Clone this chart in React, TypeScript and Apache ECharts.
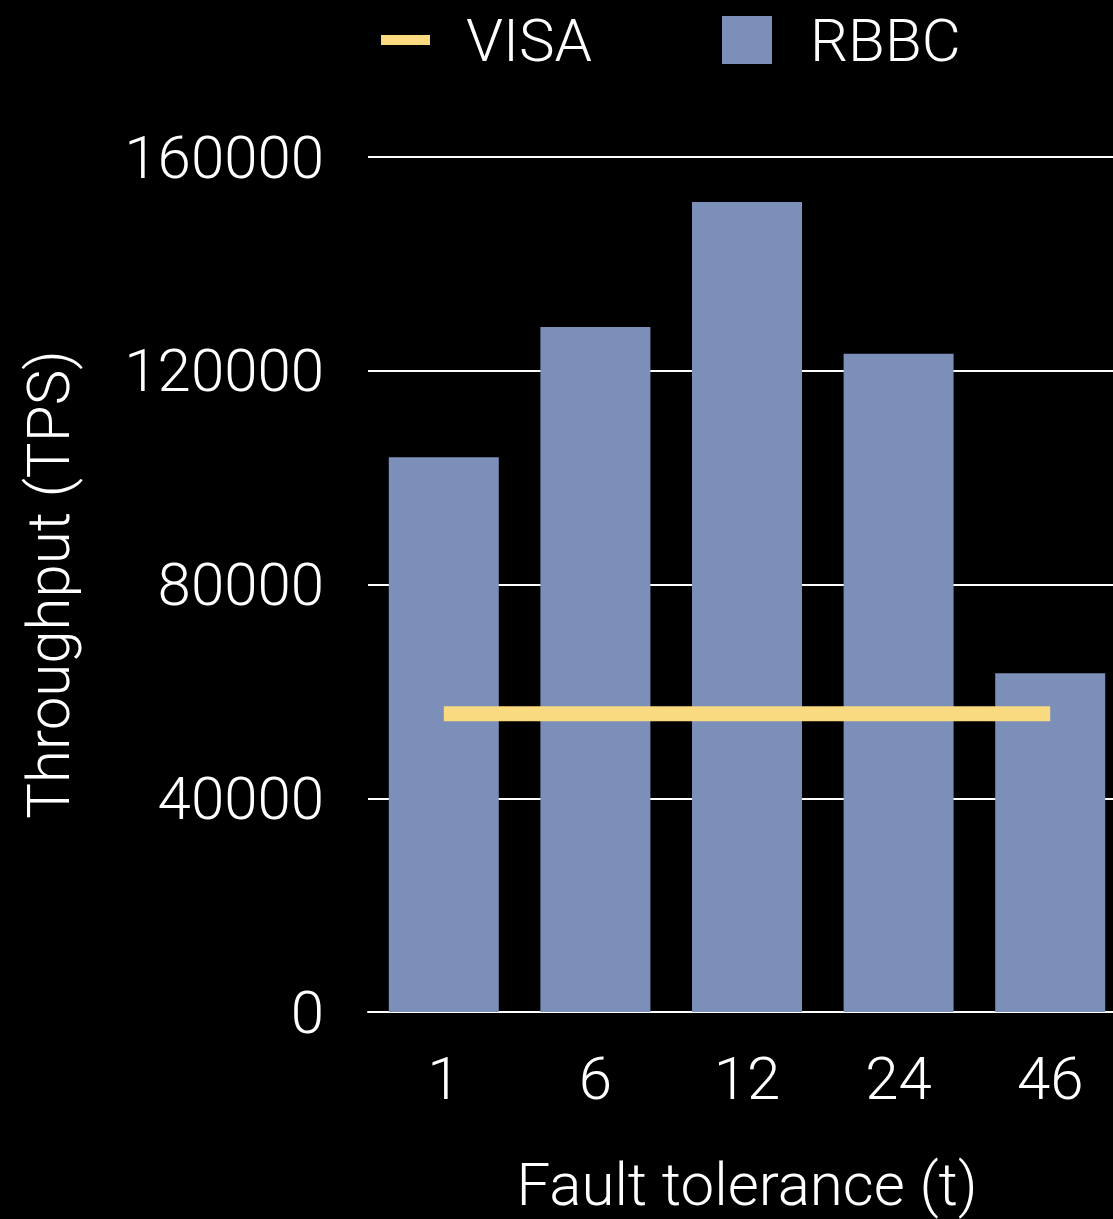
import React, { useEffect, useRef } from "react";
import * as echarts from "echarts";

const categories = ["1", "6", "12", "24", "46"];
const rbbcValues = [103800, 128200, 151600, 123200, 63400];
const visaValues = [55800, 55800, 55800, 55800, 55800];
const yTicks = { min: 0, max: 160000, interval: 40000 };

const FONT = "Roboto, 'Helvetica Neue', Arial, sans-serif";
const BAR_COLOR = "#7b8fb8";
const LINE_COLOR = "#f9da80";

export default function App() {
  const ref = useRef<HTMLDivElement>(null);
  useEffect(() => {
    if (!ref.current) return;
    const chart = echarts.init(ref.current, null, { renderer: "svg" });
    const legendText = { color: "#ffffff", fontSize: 60, fontFamily: FONT, fontWeight: 300, padding: [0, 0, 0, 31] };
    chart.setOption({
      animation: false,
      backgroundColor: "#000000",
      textStyle: { fontFamily: FONT, fontWeight: 300 },
      legend: [
        {
          left: 381,
          top: 10,
          padding: 0,
          itemWidth: 49,
          itemHeight: 10,
          textStyle: legendText,
          data: [{ name: "VISA", icon: "rect", itemStyle: { color: LINE_COLOR } }],
        },
        {
          left: 722,
          top: 10,
          padding: 0,
          itemWidth: 50,
          itemHeight: 48,
          textStyle: { ...legendText, padding: [0, 0, 0, 33] },
          data: [{ name: "RBBC", icon: "rect", itemStyle: { color: BAR_COLOR } }],
        },
      ],
      grid: { left: 368, top: 157, width: 758, height: 856, containLabel: false },
      xAxis: {
        type: "category",
        data: categories,
        axisLine: { show: true, lineStyle: { color: "#ffffff", width: 2 } },
        axisTick: { show: false },
        axisLabel: { color: "#ffffff", fontSize: 60, fontFamily: FONT, fontWeight: 300, margin: 36 },
        name: "Fault tolerance (t)",
        nameLocation: "middle",
        nameGap: 142,
        nameTextStyle: { color: "#ffffff", fontSize: 60, fontFamily: FONT, fontWeight: 300 },
      },
      yAxis: {
        type: "value",
        min: yTicks.min,
        max: yTicks.max,
        interval: yTicks.interval,
        axisLine: { show: false },
        axisTick: { show: false },
        splitLine: { show: true, lineStyle: { color: "#ffffff", width: 2 } },
        axisLabel: {
          color: "#ffffff",
          fontSize: 60,
          fontFamily: FONT,
          fontWeight: 300,
          margin: 44,
          formatter: (v: number) => String(v),
        },
        name: "Throughput (TPS)",
        nameLocation: "middle",
        nameGap: 290,
        nameTextStyle: { color: "#ffffff", fontSize: 60, fontFamily: FONT, fontWeight: 300 },
      },
      series: [
        {
          name: "RBBC",
          type: "bar",
          data: rbbcValues,
          barWidth: 110,
          itemStyle: { color: BAR_COLOR },
          z: 3,
        },
        {
          name: "VISA",
          type: "line",
          data: visaValues,
          symbol: "none",
          lineStyle: { color: LINE_COLOR, width: 15, cap: "butt" },
          itemStyle: { color: LINE_COLOR },
          z: 4,
        },
      ],
    });
    return () => chart.dispose();
  }, []);
  return (
    <div
      ref={ref}
      style={{ position: "fixed", left: 0, top: 0, width: 1126, height: 1219 }}
    />
  );
}
